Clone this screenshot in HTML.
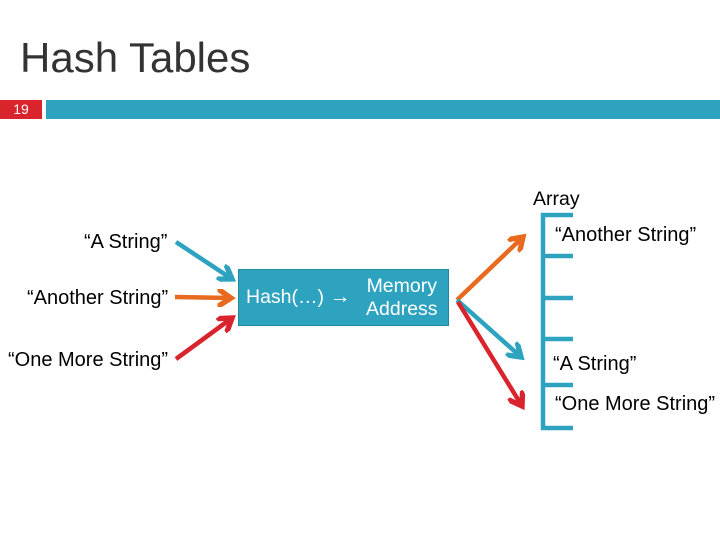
<!DOCTYPE html><html><head><style>
body{margin:0;width:720px;height:540px;background:#fff;position:relative;overflow:hidden;font-family:"Liberation Sans",sans-serif}
.t{position:absolute;white-space:nowrap;color:#000}
</style></head><body>
<div class="t" style="left:20px;top:34px;font-size:42px;color:#333">Hash Tables</div>
<div style="position:absolute;left:0;top:100px;width:42px;height:19px;background:#d9232d;color:#fff;font-size:14px;text-align:center;line-height:19px">19</div>
<div style="position:absolute;left:46px;top:100px;width:674px;height:19px;background:#2ea3c0"></div>
<div style="position:absolute;left:238px;top:269px;width:211px;height:57px;background:#2ea3c0;border:1px solid #22899f;box-sizing:border-box"></div>
<div class="t" style="left:246px;top:286px;font-size:19.5px;line-height:22px;color:#fff">Hash(…) <span style="font-size:21px;line-height:22px">→</span></div>
<div class="t" style="left:366px;top:275px;font-size:19.5px;color:#fff;text-align:center;line-height:23px">Memory<br>Address</div>
<div class="t" style="left:84px;top:231px;font-size:20px">“A String”</div>
<div class="t" style="left:27px;top:287px;font-size:20px">“Another String”</div>
<div class="t" style="left:8px;top:349px;font-size:20px">“One More String”</div>
<div class="t" style="left:533px;top:188px;font-size:19.5px">Array</div>
<div class="t" style="left:555px;top:224px;font-size:20px">“Another String”</div>
<div class="t" style="left:553px;top:353px;font-size:20px">“A String”</div>
<div class="t" style="left:555px;top:393px;font-size:20px">“One More String”</div>
<svg width="720" height="540" style="position:absolute;left:0;top:0">
<defs>
<marker id="b" markerWidth="4" markerHeight="4" refX="3" refY="2" orient="auto" markerUnits="strokeWidth"><path d="M0,0 L3,2 L0,4" fill="none" stroke="#2ea3c0" stroke-width="1.2"/></marker>
<marker id="o" markerWidth="4" markerHeight="4" refX="3" refY="2" orient="auto" markerUnits="strokeWidth"><path d="M0,0 L3,2 L0,4" fill="none" stroke="#e86a1f" stroke-width="1.2"/></marker>
<marker id="r" markerWidth="4" markerHeight="4" refX="3" refY="2" orient="auto" markerUnits="strokeWidth"><path d="M0,0 L3,2 L0,4" fill="none" stroke="#d9232d" stroke-width="1.2"/></marker>
</defs>
<g stroke-width="4.5" fill="none">
<line x1="176" y1="242" x2="232" y2="279" stroke="#2ea3c0" marker-end="url(#b)"/>
<line x1="175" y1="297" x2="231" y2="298" stroke="#e86a1f" marker-end="url(#o)"/>
<line x1="176" y1="359" x2="232" y2="318" stroke="#d9232d" marker-end="url(#r)"/>
<line x1="457" y1="300" x2="523" y2="237" stroke="#e86a1f" marker-end="url(#o)"/>
<line x1="457" y1="300" x2="521" y2="357" stroke="#2ea3c0" marker-end="url(#b)"/>
<line x1="458" y1="302" x2="522" y2="406" stroke="#d9232d" marker-end="url(#r)"/>
</g>
<g stroke="#2ea3c0" stroke-width="4.5" fill="none">
<path d="M573,215 L543,215 L543,428 L573,428"/>
<line x1="543" y1="256" x2="573" y2="256"/>
<line x1="543" y1="298" x2="573" y2="298"/>
<line x1="543" y1="339" x2="573" y2="339"/>
<line x1="543" y1="385" x2="573" y2="385"/>
</g>
</svg>
</body></html>
